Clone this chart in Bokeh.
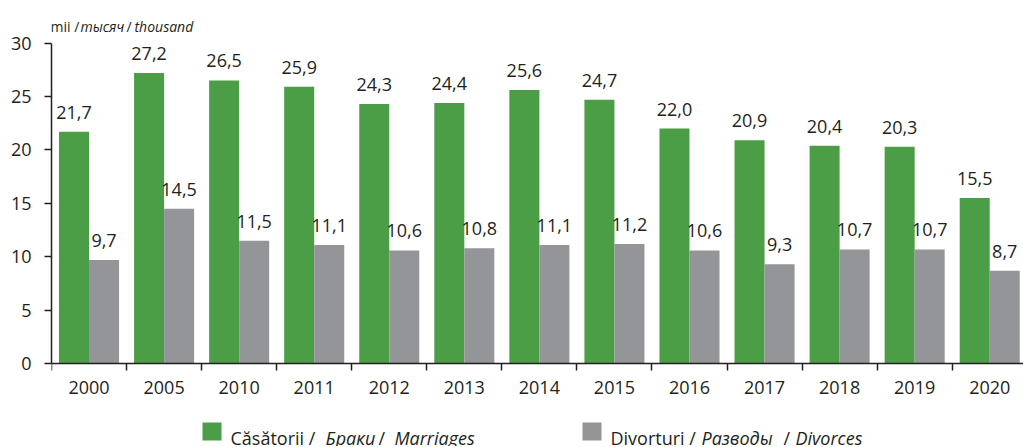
import numpy as np
from bokeh.plotting import figure
from bokeh.models import Range1d, FixedTicker, LabelSet, ColumnDataSource
from bokeh.core.properties import value
from bokeh.embed import file_html
from bokeh.resources import INLINE

# ---- data ----
years = ["2000", "2005", "2010", "2011", "2012", "2013", "2014",
         "2015", "2016", "2017", "2018", "2019", "2020"]
marriages = [21.7, 27.2, 26.5, 25.9, 24.3, 24.4, 25.6, 24.7, 22.0, 20.9, 20.4, 20.3, 15.5]
divorces = [9.7, 14.5, 11.5, 11.1, 10.6, 10.8, 11.1, 11.2, 10.6, 9.3, 10.7, 10.7, 8.7]
y_ticks = [0, 5, 10, 15, 20, 25, 30]
unit_parts = [("mii /", "normal"), ("тысяч", "italic"), ("/", "normal"), ("thousand", "italic")]
legend_m = [("Căsătorii /", "normal"), ("Браки", "italic"), ("/", "normal"), ("Marriages", "italic")]
legend_d = [("Divorțuri /", "normal"), ("Разводы", "italic"), ("/", "normal"), ("Divorces", "italic")]

GREEN = "#4c9e46"
GRAY = "#939598"
TXT = "#231f20"
FONT = "Open Sans"

n = len(years)
centers = np.arange(n) + 0.5
bounds = list(np.arange(n + 1).astype(float))

# ---- layout geometry (pixels) ----
W, H = 1023, 446
ML = 51
PX_Y0, PX_Y30 = 363.3, 42.5          # where 0 and 30 sit on the page
X_END = n - 0.05
unit_px = (PX_Y0 - PX_Y30) / 30.0
cat_px = (W - ML) / X_END


def px2x(px):
    return (px - ML) / cat_px


def py2y(py):
    return (PX_Y0 - py) / unit_px


p = figure(width=W, height=H, x_range=Range1d(0, X_END),
           y_range=Range1d(py2y(H), py2y(0)),
           output_backend="svg", toolbar_location=None,
           min_border_left=ML, min_border_right=0, min_border_top=0, min_border_bottom=0)
p.outline_line_color = None
p.xgrid.grid_line_color = None
p.ygrid.grid_line_color = None

src = ColumnDataSource(dict(xm=centers - 0.2, xd=centers + 0.2, m=marriages, d=divorces,
                            ml=[f"{v:.1f}".replace(".", ",") for v in marriages],
                            dl=[f"{v:.1f}".replace(".", ",") for v in divorces]))
p.vbar(x="xm", top="m", bottom=0, width=0.4, source=src, fill_color=GREEN, line_color=None)
p.vbar(x="xd", top="d", bottom=0, width=0.4, source=src, fill_color=GRAY, line_color=None)

for xcol, ycol, tcol in [("xm", "m", "ml"), ("xd", "d", "dl")]:
    p.add_layout(LabelSet(x=xcol, y=ycol, text=tcol, source=src, y_offset=13,
                          text_align="center", text_baseline="alphabetic",
                          text_font=value(FONT), text_font_size="18px", text_color=TXT))

# x axis at y = 0
xa = p.xaxis[0]
xa.fixed_location = 0
xa.ticker = FixedTicker(ticks=list(centers), minor_ticks=bounds)
xa.major_label_overrides = {float(c): y for c, y in zip(centers, years)}
xa.major_tick_out = 0
xa.major_tick_in = 0
xa.minor_tick_out = 7
xa.minor_tick_in = 0
xa.minor_tick_line_color = TXT
xa.minor_tick_line_width = 1.5
xa.axis_line_color = TXT
xa.axis_line_width = 1.5
xa.major_label_text_font = FONT
xa.major_label_text_font_size = "18px"
xa.major_label_text_color = TXT
xa.major_label_standoff = 10

# y axis from 0 to 30
ya = p.yaxis[0]
ya.bounds = (0, 30)
ya.ticker = FixedTicker(ticks=y_ticks)
ya.major_tick_out = 7
ya.major_tick_in = 0
ya.minor_tick_line_color = None
ya.major_tick_line_color = TXT
ya.major_tick_line_width = 1.5
ya.axis_line_color = TXT
ya.axis_line_width = 1.5
ya.major_label_text_font = FONT
ya.major_label_text_font_size = "18px"
ya.major_label_text_color = TXT
ya.major_label_standoff = 13

# unit label above the plot
for (t, st), px in zip(unit_parts, [50, 80, 126, 134]):
    p.text(x=[px2x(px)], y=[py2y(26)], text=[t], text_font=value(FONT), text_font_style=st,
           text_font_size="14px", text_color=TXT, text_baseline="alphabetic")

# legend below the plot
for color, sq_left, parts, xs in [(GREEN, 202, legend_m, [230, 325, 378, 394]),
                                  (GRAY, 582, legend_d, [610, 701, 783, 795])]:
    p.quad(left=[px2x(sq_left)], right=[px2x(sq_left + 19)], top=[py2y(422)],
           bottom=[py2y(440)], fill_color=color, line_color=None)
    for (t, st), px in zip(parts, xs):
        p.text(x=[px2x(px)], y=[py2y(437)], text=[t], text_font=value(FONT), text_font_style=st,
               text_font_size="18px", text_color=TXT, text_baseline="alphabetic")

open("out.html", "w").write(file_html(p, INLINE))
